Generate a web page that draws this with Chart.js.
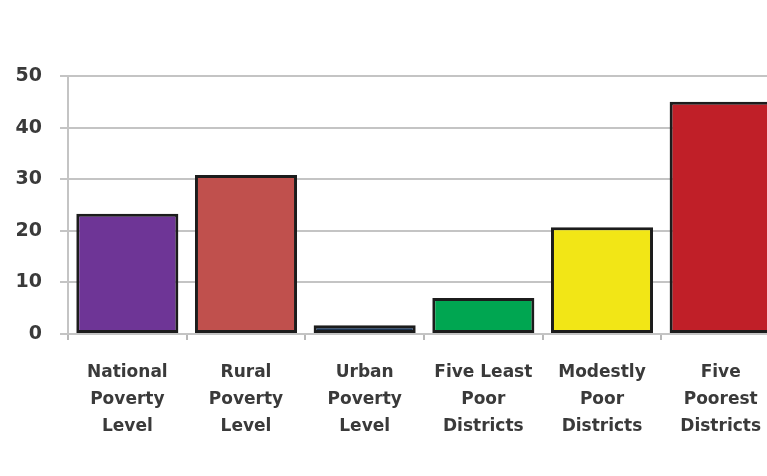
<!DOCTYPE html>
<html lang="en">
<head>
    <meta charset="UTF-8">
    <title>Poverty levels</title>
    <script src="https://cdn.jsdelivr.net/npm/chart.js"></script>
    <style>
        html, body { margin: 0; padding: 0; background: #fff; overflow: hidden; }
        #wrap { width: 782px; height: 476px; }
    </style>
</head>
<body>
<div id="wrap">
    <canvas id="povertyChart" width="782" height="476"></canvas>
</div>

<script>
    const categories = [
        ['National', 'Poverty', 'Level'],
        ['Rural', 'Poverty', 'Level'],
        ['Urban', 'Poverty', 'Level'],
        ['Five Least', 'Poor', 'Districts'],
        ['Modestly', 'Poor', 'Districts'],
        ['Five', 'Poorest', 'Districts']
    ];
    const povertyRates = [23.3, 30.8, 1.7, 7.0, 20.7, 45.0];
    const barColors = ['#6e3596', '#c0504d', '#1d3657', '#00a651', '#f2e616', '#c01f28'];
    const yTicks = [0, 10, 20, 30, 40, 50];

    const ctx = document.getElementById('povertyChart').getContext('2d');

    new Chart(ctx, {
        type: 'bar',
        data: {
            labels: categories,
            datasets: [{
                data: povertyRates,
                backgroundColor: barColors,
                borderColor: '#1c1c1c',
                borderWidth: 3,
                borderSkipped: false,
                barPercentage: 0.86,
                categoryPercentage: 1.0
            }]
        },
        options: {
            responsive: false,
            animation: false,
            layout: { padding: { top: 76, left: 0, right: 2, bottom: 0 } },
            plugins: {
                legend: { display: false },
                tooltip: { enabled: false }
            },
            scales: {
                x: {
                    offset: true,
                    afterFit: scale => { scale.height = 476 - 334; },
                    grid: {
                        drawOnChartArea: false,
                        drawTicks: true,
                        tickLength: 6,
                        color: '#b8b8b8',
                        lineWidth: 2
                    },
                    border: { color: '#c4c4c4', width: 2 },
                    ticks: {
                        padding: 19,
                        color: '#3a3a3a',
                        font: { family: 'DejaVu Sans', size: 17, weight: 'bold', lineHeight: '27px' },
                        maxRotation: 0,
                        autoSkip: false
                    }
                },
                y: {
                    min: 0,
                    max: 50,
                    afterFit: scale => { scale.width = 68; },
                    afterBuildTicks: scale => { scale.ticks = yTicks.map(v => ({ value: v })); },
                    grid: {
                        color: '#c4c4c4',
                        lineWidth: 2,
                        tickLength: 8
                    },
                    border: { color: '#c4c4c4', width: 2 },
                    ticks: {
                        padding: 18,
                        color: '#3a3a3a',
                        font: { family: 'DejaVu Sans', size: 19, weight: 'bold' }
                    }
                }
            }
        }
    });
</script>
</body>
</html>
